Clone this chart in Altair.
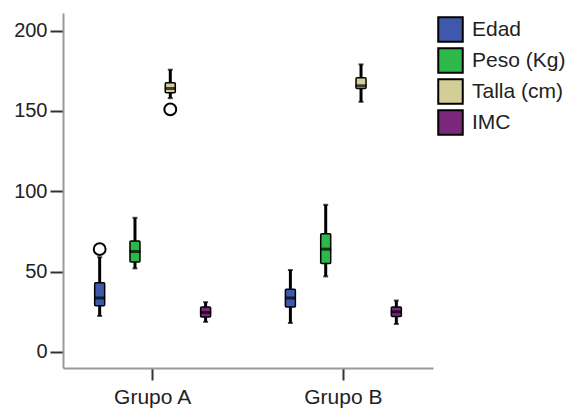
import altair as alt
import pandas as pd

# Summary statistics per group and variable (whisker low, Q1, median, Q3, whisker high)
grupos = ["Grupo A", "Grupo B"]
variables = ["Edad", "Peso (Kg)", "Talla (cm)", "IMC"]
colores = ["#3E58AC", "#2EB848", "#D3CE97", "#7C287D"]

bigote_inf = {"Grupo A": [22.4, 52.0, 158.0, 18.7], "Grupo B": [18.0, 47.0, 155.7, 17.4]}
q1 = {"Grupo A": [28.7, 56.0, 161.4, 21.8], "Grupo B": [28.0, 55.0, 164.0, 22.0]}
mediana = {"Grupo A": [33.6, 62.5, 164.0, 24.5], "Grupo B": [33.6, 64.0, 165.7, 25.0]}
q3 = {"Grupo A": [43.0, 69.0, 167.6, 28.0], "Grupo B": [39.0, 73.5, 170.7, 28.0]}
bigote_sup = {"Grupo A": [59.0, 83.5, 175.7, 31.0], "Grupo B": [51.0, 91.6, 179.0, 32.0]}

# Atypical values
atip_grupo = ["Grupo A", "Grupo A"]
atip_variable = ["Edad", "Talla (cm)"]
atip_valor = [64.0, 151.0]

rows = []
for g in grupos:
    for i, v in enumerate(variables):
        rows.append({
            "Grupo": g, "Variable": v,
            "lo": bigote_inf[g][i], "q1": q1[g][i], "med": mediana[g][i],
            "q3": q3[g][i], "hi": bigote_sup[g][i],
        })
df = pd.DataFrame(rows)
df_out = pd.DataFrame({"Grupo": atip_grupo, "Variable": atip_variable, "valor": atip_valor})

FONT = "Liberation Sans"

x_enc = alt.X(
    "Grupo:N", sort=grupos, title=None,
    scale=alt.Scale(paddingInner=0.1, paddingOuter=0.02),
    axis=alt.Axis(
        labelAngle=0, labelFont=FONT, labelFontSize=21, labelColor="#222",
        domainColor="#9a9a9a", domainWidth=2, tickColor="#333", tickWidth=2,
        tickSize=12, labelPadding=6, grid=False,
    ),
)
xo_enc = alt.XOffset("Variable:N", sort=variables,
                     scale=alt.Scale(paddingInner=0, paddingOuter=0.43))
y_scale = alt.Scale(domain=[-10, 211], nice=False, zero=False)
y_axis = alt.Axis(
    values=[0, 50, 100, 150, 200], labelFont=FONT, labelFontSize=20,
    labelColor="#222", domainColor="#9a9a9a", domainWidth=2, tickColor="#333",
    tickWidth=2, tickSize=13, labelPadding=3, grid=False,
)

base = alt.Chart(df)

bigotes = base.mark_rule(color="black", strokeWidth=3).encode(
    x=x_enc, xOffset=xo_enc,
    y=alt.Y("lo:Q", scale=y_scale, axis=y_axis, title=None),
    y2="hi:Q",
)
tope_inf = base.mark_tick(color="black", size=5, thickness=2).encode(
    x=x_enc, xOffset=xo_enc, y=alt.Y("lo:Q", scale=y_scale)
)
tope_sup = base.mark_tick(color="black", size=5, thickness=2).encode(
    x=x_enc, xOffset=xo_enc, y=alt.Y("hi:Q", scale=y_scale)
)
cajas = base.mark_bar(size=10, stroke="black", strokeWidth=1.5, cornerRadius=1).encode(
    x=x_enc, xOffset=xo_enc,
    y=alt.Y("q1:Q", scale=y_scale),
    y2="q3:Q",
    color=alt.Color(
        "Variable:N", sort=variables,
        scale=alt.Scale(domain=variables, range=colores),
        legend=alt.Legend(
            title=None, orient="none", legendX=374, legendY=3,
            symbolType="square", symbolSize=600, symbolStrokeColor="black",
            symbolStrokeWidth=2, symbolOpacity=1, labelFont=FONT,
            labelFontSize=21, labelColor="#222", labelOffset=8,
            rowPadding=-2, padding=0,
        ),
    ),
)
medianas = base.mark_tick(color="black", size=11, thickness=3).encode(
    x=x_enc, xOffset=xo_enc, y=alt.Y("med:Q", scale=y_scale)
)
atipicos = alt.Chart(df_out).mark_point(
    shape="circle", filled=True, fill="white", stroke="black", strokeWidth=2,
    size=140, opacity=1,
).encode(
    x=x_enc, xOffset=xo_enc, y=alt.Y("valor:Q", scale=y_scale)
)

chart = alt.layer(bigotes, tope_inf, tope_sup, cajas, medianas, atipicos).properties(
    width=370, height=355,
    autosize=alt.AutoSizeParams(type="none"),
    padding={"left": 63, "top": 13, "right": 135, "bottom": 44},
    background="white",
).configure_view(stroke=None)

chart.save("out.html", embed_options={"renderer": "svg", "actions": False})
